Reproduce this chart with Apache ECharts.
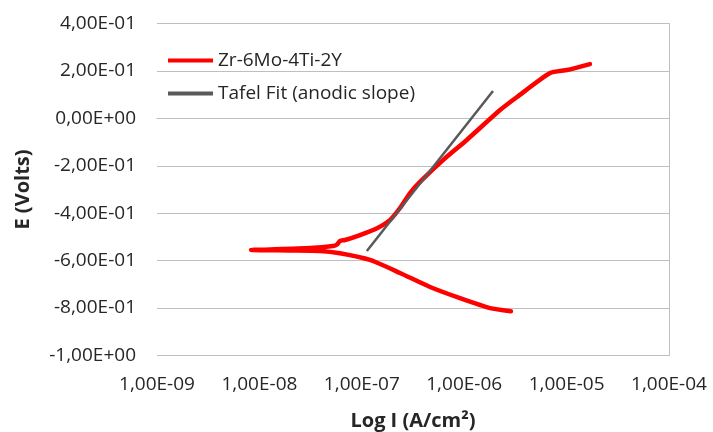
<!DOCTYPE html>
<html>
<head>
<meta charset="utf-8">
<script src="https://cdn.jsdelivr.net/npm/echarts@6/dist/echarts.min.js"></script>
<style>
  html, body { margin: 0; padding: 0; background: #ffffff; }
  #chart { width: 713px; height: 432px; }
</style>
</head>
<body>
<div id="chart"></div>
<script>
// Polarization curve: current density (A/cm²) vs potential (V)
const alloyName = 'Zr-6Mo-4Ti-2Y';
const fitName = 'Tafel Fit (anodic slope)';

// Measured curve, cathodic end -> corrosion potential -> anodic end
const alloyCurrent = [2.86e-6, 1.79e-6, 9.1e-7, 4.64e-7, 2.36e-7, 1.20e-7, 6.12e-8, 3.91e-8, 1.99e-8, 8.3e-9,
  1.27e-8, 3.12e-8, 5.24e-8, 5.73e-8, 6.12e-8, 6.86e-8, 9.6e-8, 1.41e-7, 1.88e-7, 2.36e-7,
  2.96e-7, 3.70e-7, 6.21e-7, 1.06e-6, 2.24e-6, 3.28e-6, 6.89e-6, 1.01e-5, 1.69e-5];
const alloyPotential = [-0.813, -0.800, -0.758, -0.711, -0.652, -0.597, -0.569, -0.559, -0.557, -0.555,
  -0.553, -0.547, -0.538, -0.532, -0.517, -0.513, -0.492, -0.463, -0.429, -0.378,
  -0.315, -0.268, -0.176, -0.091, 0.035, 0.090, 0.191, 0.204, 0.229];

// Anodic Tafel fit line end points
const fitCurrent = [1.12e-7, 1.91e-6];
const fitPotential = [-0.559, 0.115];

// Axis ranges / ticks
const xTicks = [1e-9, 1e-8, 1e-7, 1e-6, 1e-5, 1e-4];
const yMin = -1.0, yMax = 0.4, yStep = 0.2;

function sci(v) {
  const s = Number(v).toExponential(2);
  const [m, e] = s.split('e');
  const ev = parseInt(e, 10);
  const sign = ev < 0 ? '-' : '+';
  const mag = String(Math.abs(ev)).padStart(2, '0');
  return m.replace('.', ',') + 'E' + sign + mag;
}

const zip = (a, b) => a.map((v, i) => [v, b[i]]);

const FONT = '"Open Sans", sans-serif';
const GRID_COLOR = '#bfbfbf';

const chart = echarts.init(document.getElementById('chart'), null, { renderer: 'canvas' });
chart.setOption({
  backgroundColor: '#ffffff',
  animation: false,
  grid: { left: 157, right: 44, top: 23.5, bottom: 76.5, outerBoundsMode: 'none' },
  legend: {
    orient: 'vertical',
    left: 163,
    top: 46,
    itemWidth: 45,
    itemHeight: 4,
    itemGap: 14,
    textStyle: { fontFamily: FONT, fontSize: 19, color: '#262626' },
    data: [
      { name: alloyName, icon: 'rect', itemStyle: { color: '#ff0000' } },
      { name: fitName, icon: 'rect', itemStyle: { color: '#595959' } }
    ]
  },
  xAxis: {
    type: 'log',
    logBase: 10,
    min: xTicks[0],
    max: xTicks[xTicks.length - 1],
    name: 'Log I (A/cm²)',
    nameLocation: 'middle',
    nameGap: 56,
    nameTextStyle: { fontFamily: FONT, fontSize: 20, fontWeight: 'bold', color: '#262626' },
    axisLine: { show: true, lineStyle: { color: GRID_COLOR, width: 1 } },
    axisTick: { show: false },
    splitLine: { show: false },
    axisLabel: {
      fontFamily: FONT, fontSize: 19, color: '#262626', margin: 20,
      formatter: v => sci(v)
    }
  },
  yAxis: [{
    type: 'value',
    min: yMin,
    max: yMax,
    interval: yStep,
    name: 'E (Volts)',
    nameLocation: 'middle',
    nameGap: 124,
    nameTextStyle: { fontFamily: FONT, fontSize: 20, fontWeight: 'bold', color: '#262626' },
    axisLine: { show: false },
    axisTick: { show: false },
    splitLine: { show: true, lineStyle: { color: GRID_COLOR, width: 1 } },
    axisLabel: {
      fontFamily: FONT, fontSize: 19, color: '#262626', margin: 21,
      formatter: v => sci(v)
    }
  }, {
    type: 'value',
    position: 'right',
    min: yMin,
    max: yMax,
    interval: yStep,
    axisLine: { show: true, lineStyle: { color: GRID_COLOR, width: 1 } },
    axisTick: { show: false },
    axisLabel: { show: false },
    splitLine: { show: false }
  }],
  series: [{
    name: alloyName,
    type: 'line',
    data: zip(alloyCurrent, alloyPotential),
    showSymbol: false,
    symbol: 'none',
    smooth: 0.2,
    lineStyle: { color: '#ff0000', width: 4.5, cap: 'round', join: 'round' },
    itemStyle: { color: '#ff0000' },
    z: 2
  }, {
    name: fitName,
    type: 'line',
    data: zip(fitCurrent, fitPotential),
    showSymbol: false,
    symbol: 'none',
    lineStyle: { color: '#595959', width: 2.5 },
    itemStyle: { color: '#595959' },
    z: 3
  }]
});
</script>
</body>
</html>
